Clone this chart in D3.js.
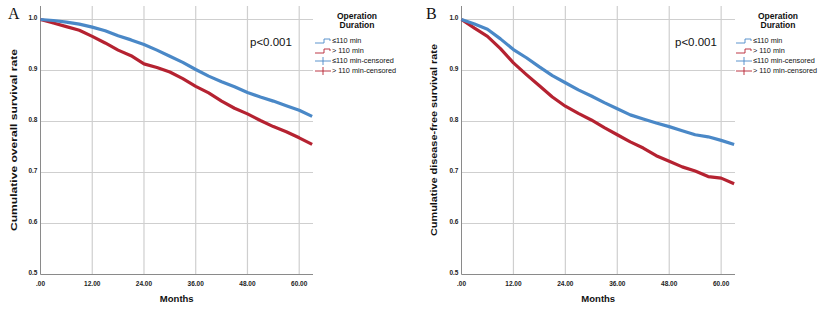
<!DOCTYPE html>
<html>
<head>
<meta charset="utf-8">
<script src="https://cdn.jsdelivr.net/npm/d3@7"></script>
<style>
  body { margin: 0; background: #fff; }
  text { font-family: "Liberation Sans", Arial, sans-serif; }
  text.letter { font-family: "Liberation Serif", "Times New Roman", serif; }
</style>
</head>
<body>
<div id="chart"></div>
<script>
var months = [0, 3, 6, 9, 12, 15, 18, 21, 24, 27, 30, 33, 36, 39, 42, 45, 48, 51, 54, 57, 60, 63];

// panel A: overall survival
var osShort = [1.000, 0.998, 0.995, 0.991, 0.985, 0.978, 0.968, 0.960, 0.951, 0.940, 0.928, 0.916,
               0.902, 0.889, 0.878, 0.868, 0.857, 0.848, 0.840, 0.831, 0.822, 0.810];
var osLong  = [1.000, 0.993, 0.986, 0.979, 0.967, 0.954, 0.940, 0.929, 0.913, 0.906, 0.897, 0.884,
               0.869, 0.856, 0.840, 0.826, 0.815, 0.802, 0.790, 0.780, 0.768, 0.755];

// panel B: disease-free survival
var dfsShort = [1.000, 0.991, 0.981, 0.962, 0.941, 0.925, 0.907, 0.890, 0.876, 0.862, 0.850, 0.837,
                0.825, 0.813, 0.805, 0.797, 0.790, 0.782, 0.774, 0.770, 0.763, 0.755];
var dfsLong  = [1.000, 0.983, 0.967, 0.943, 0.915, 0.892, 0.870, 0.848, 0.830, 0.816, 0.803, 0.788,
                0.774, 0.760, 0.748, 0.733, 0.722, 0.711, 0.703, 0.692, 0.689, 0.678];

var xTicks = [0, 12, 24, 36, 48, 60];
var yTicks = [0.5, 0.6, 0.7, 0.8, 0.9, 1.0];
var legendTitle = ["Operation", "Duration"];
var legendLabels = ["\u2264110 min", "> 110 min", "\u2264110 min-censored", "> 110 min-censored"];
var pText = "p<0.001";

var blue = "#4a88c7";
var red = "#b52231";

var w = 826, h = 312;
var svg = d3.select("#chart").append("svg")
    .attr("width", w)
    .attr("height", h);

function drawPanel(opt) {
    var g = svg.append("g");
    var x = d3.scaleLinear().domain([0, 63.2]).range([opt.left, opt.right]);
    var y = d3.scaleLinear().domain([0.5, 1.0]).range([274.5, 19.5]);
    var top = 6;

    // grid lines
    g.selectAll(".hgrid").data(yTicks.slice(1)).enter().append("line")
        .attr("x1", opt.left).attr("x2", opt.right)
        .attr("y1", d => y(d)).attr("y2", d => y(d))
        .attr("stroke", "#cfcfcf").attr("stroke-width", 1.2);
    g.selectAll(".vgrid").data(xTicks.slice(1)).enter().append("line")
        .attr("x1", d => x(d)).attr("x2", d => x(d))
        .attr("y1", top).attr("y2", y(0.5))
        .attr("stroke", "#cfcfcf").attr("stroke-width", 1.2);

    // axes
    g.append("line")
        .attr("x1", opt.left).attr("x2", opt.left)
        .attr("y1", top).attr("y2", y(0.5))
        .attr("stroke", "#8a8a8a").attr("stroke-width", 1);
    g.append("line")
        .attr("x1", opt.left).attr("x2", opt.right)
        .attr("y1", y(0.5)).attr("y2", y(0.5))
        .attr("stroke", "#8a8a8a").attr("stroke-width", 1);

    // tick labels
    g.selectAll(".ylab").data(yTicks).enter().append("text")
        .attr("x", opt.left - 3).attr("y", d => y(d) - 1)
        .attr("text-anchor", "end").attr("dominant-baseline", "middle")
        .attr("font-size", 6.5).attr("font-weight", "bold").attr("fill", "#222")
        .text(d => d.toFixed(1));
    g.selectAll(".xlab").data(xTicks).enter().append("text")
        .attr("x", d => x(d)).attr("y", 286)
        .attr("text-anchor", "middle")
        .attr("font-size", 6.5).attr("font-weight", "bold").attr("fill", "#222")
        .text(d => d === 0 ? ".00" : d.toFixed(2));

    // axis titles
    g.append("text")
        .attr("x", (opt.left + opt.right) / 2).attr("y", 302)
        .attr("text-anchor", "middle")
        .attr("font-size", 9.5).attr("font-weight", "bold").attr("fill", "#111")
        .text("Months");
    g.append("text")
        .attr("transform", "translate(" + opt.titleX + ",140) rotate(-90)")
        .attr("text-anchor", "middle")
        .attr("font-size", 9.5).attr("font-weight", "bold").attr("fill", "#111")
        .attr("textLength", opt.titleLen).attr("lengthAdjust", "spacingAndGlyphs")
        .text(opt.yTitle);

    // panel letter
    g.append("text")
        .attr("class", "letter")
        .attr("x", opt.letterX).attr("y", 19)
        .attr("font-size", 16).attr("fill", "#111")
        .text(opt.letter);

    // curves
    var line = d3.line()
        .x((d, i) => x(months[i]))
        .y(d => y(d));
    [[opt.long, red], [opt.short, blue]].forEach(function(s) {
        g.append("path")
            .datum(s[0])
            .attr("d", line)
            .attr("fill", "none")
            .attr("stroke", s[1])
            .attr("stroke-width", 3.2)
            .attr("stroke-linejoin", "round");
    });

    // p-value
    g.append("text")
        .attr("x", opt.pX).attr("y", 46)
        .attr("font-size", 11.5).attr("fill", "#111")
        .text(pText);

    // legend
    var lg = g.append("g").attr("transform", "translate(" + opt.legX + ",0)");
    lg.selectAll(".lt").data(legendTitle).enter().append("text")
        .attr("x", 42).attr("y", (d, i) => 18.5 + i * 9.5)
        .attr("text-anchor", "middle")
        .attr("font-size", 8.5).attr("font-weight", "bold").attr("fill", "#111")
        .text(d => d);
    var rows = lg.selectAll(".row").data(legendLabels).enter().append("g")
        .attr("transform", (d, i) => "translate(0," + (41 + i * 10) + ")");
    rows.each(function(d, i) {
        var r = d3.select(this);
        var col = i % 2 === 0 ? blue : red;
        if (i < 2) {
            r.append("path")
                .attr("d", "M0,2H9V-2H15V0")
                .attr("fill", "none").attr("stroke", col).attr("stroke-width", 0.9);
        } else {
            r.append("line").attr("x1", 0).attr("x2", 16).attr("y1", 0).attr("y2", 0)
                .attr("stroke", col).attr("stroke-width", 0.9);
            r.append("line").attr("x1", 8).attr("x2", 8).attr("y1", -4).attr("y2", 4)
                .attr("stroke", col).attr("stroke-width", 0.9);
        }
        r.append("text")
            .attr("x", 17).attr("y", 0)
            .attr("dominant-baseline", "middle")
            .attr("font-size", 7.3).attr("fill", "#111")
            .text(d);
    });
}

drawPanel({
    left: 40.5, right: 313, letter: "A", letterX: 8, titleX: 17, titleLen: 182,
    yTitle: "Cumulative overall survival rate", pX: 250, legX: 315,
    short: osShort, long: osLong
});
drawPanel({
    left: 461.5, right: 735, letter: "B", letterX: 426, titleX: 437, titleLen: 192,
    yTitle: "Cumulative disease-free survival rate", pX: 675, legX: 736,
    short: dfsShort, long: dfsLong
});
</script>
</body>
</html>
